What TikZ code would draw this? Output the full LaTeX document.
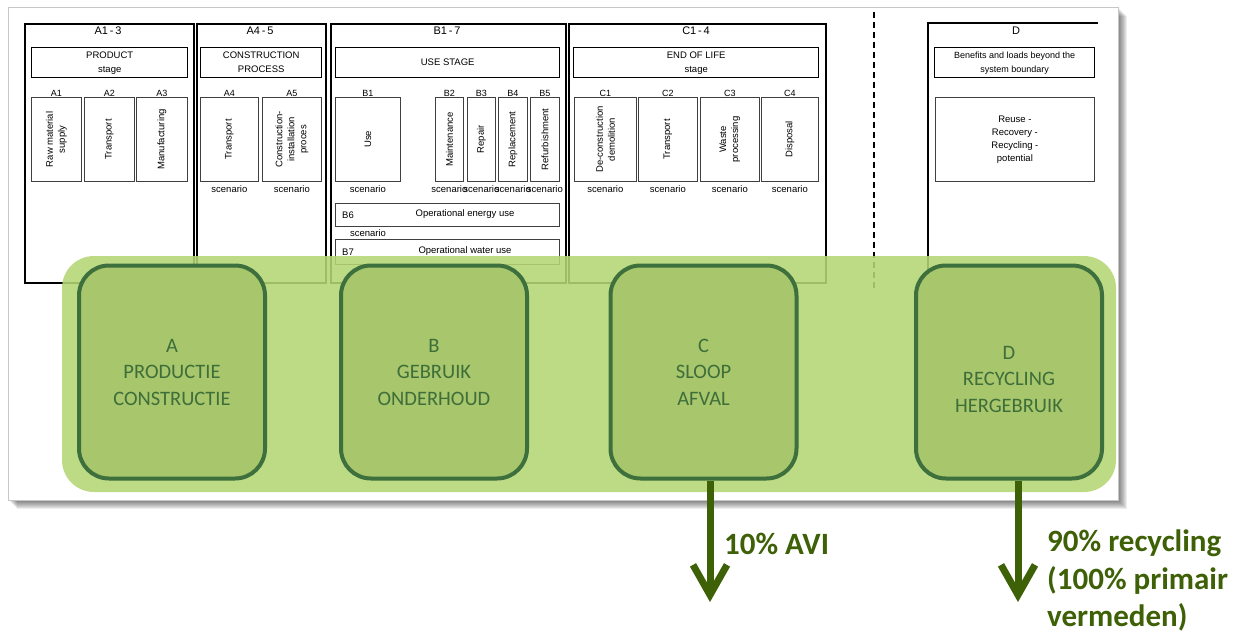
\documentclass[tikz,border=0pt]{standalone}
\usepackage{fontspec}
\setmainfont{Liberation Sans}
\newfontfamily\calfont{Carlito}
\usetikzlibrary{arrows.meta}
\definecolor{bandc}{RGB}{181,214,115}
\definecolor{boxfill}{RGB}{168,198,107}
\definecolor{boxline}{RGB}{62,112,62}
\definecolor{boxtext}{RGB}{62,110,58}
\definecolor{arrowc}{RGB}{62,96,6}
\tikzset{
  outerbox/.style={draw=black, line width=1.6pt, inner sep=0pt, anchor=north west},
  headbox/.style={draw=black, line width=1.4pt, inner sep=0pt, anchor=north west, align=center, font=\fontsize{9.5}{14}\selectfont},
  itembox/.style={draw=black!75, line width=0.8pt, inner sep=0pt, anchor=north west},
  small/.style={font=\fontsize{9.5}{12}\selectfont, inner sep=0pt},
  rot/.style={small, rotate=90, align=center},
  ttl/.style={font=\fontsize{11}{12}\selectfont, inner sep=0pt},
  rbox/.style={draw=boxline, line width=4pt, fill=boxfill, rounded corners=30pt,
     minimum width=186pt, minimum height=213pt, inner sep=0pt, align=center,
     text=boxtext, font=\calfont\fontsize{20.5}{26.5}\selectfont},
  flow/.style={draw=arrowc, line width=7pt, -{Straight Barb[length=30pt,width=34pt]}},
  flowtext/.style={text=arrowc, inner sep=0pt, align=left, font=\calfont\bfseries\fontsize{31}{37.5}\selectfont}
}
\begin{document}
\begin{tikzpicture}[x=1pt,y=-1pt]
\useasboundingbox (0,0) rectangle (1245,635);
% frame with shadow
\foreach \i in {1,...,9}{
  \fill[black, opacity=0.07] (8+\i,7+\i) rectangle (1118+\i,500+\i);
}
\draw[black!22, line width=1pt, fill=white] (8,7) rectangle (1118,500);

% outer boxes
\node[outerbox, minimum width=169pt, minimum height=259pt] (A13) at (24,23) {};
\node[outerbox, minimum width=129pt, minimum height=259pt] (A45) at (196,23) {};
\node[outerbox, minimum width=235pt, minimum height=259pt] (B17) at (330,23) {};
\node[outerbox, minimum width=257pt, minimum height=259pt] (C14) at (568,23) {};
\coordinate (Dtr) at (1098,23);
\coordinate (Dtl) at (928,23);
\coordinate (Dbl) at (928,282);
\draw[line width=1.6pt] (Dtr) -- (Dtl) -- (Dbl);

% titles
\node[ttl] (tA13) at (108,31) {A1\,-\,3};
\node[ttl] (tA45) at (260,31) {A4\,-\,5};
\node[ttl] (tB17) at (447,31) {B1\,-\,7};
\node[ttl] (tC14) at (696,31) {C1\,-\,4};
\node[ttl] (tD) at (1016,31) {D};

% header boxes
\node[headbox, minimum width=156pt, minimum height=30pt] (hA13) at (31,47) {PRODUCT\\stage};
\node[headbox, minimum width=121pt, minimum height=30pt] (hA45) at (200,47) {CONSTRUCTION\\PROCESS};
\node[headbox, minimum width=224pt, minimum height=30pt] (hB17) at (335,47) {USE STAGE};
\node[headbox, minimum width=245pt, minimum height=30pt] (hC14) at (573,47) {END OF LIFE\\stage};
\node[headbox, minimum width=160pt, minimum height=30pt, font=\fontsize{9}{14}\selectfont] (hD) at (934,47) {Benefits and loads beyond the\\system boundary};

% item boxes
\node[itembox, minimum width=50pt, minimum height=84pt] (A1) at (31,97) {};
\node[itembox, minimum width=50pt, minimum height=84pt] (A2) at (84,97) {};
\node[itembox, minimum width=51pt, minimum height=84pt] (A3) at (136,97) {};
\node[itembox, minimum width=58pt, minimum height=84pt] (A4) at (200,97) {};
\node[itembox, minimum width=59pt, minimum height=84pt] (A5) at (262,97) {};
\node[itembox, minimum width=65pt, minimum height=84pt] (B1) at (335,97) {};
\node[itembox, minimum width=28pt, minimum height=84pt] (B2) at (435,97) {};
\node[itembox, minimum width=28pt, minimum height=84pt] (B3) at (467,97) {};
\node[itembox, minimum width=29pt, minimum height=84pt] (B4) at (498,97) {};
\node[itembox, minimum width=29pt, minimum height=84pt] (B5) at (530,97) {};
\node[itembox, minimum width=62pt, minimum height=84pt] (C1) at (574,97) {};
\node[itembox, minimum width=59pt, minimum height=84pt] (C2) at (638,97) {};
\node[itembox, minimum width=59pt, minimum height=84pt] (C3) at (700,97) {};
\node[itembox, minimum width=57pt, minimum height=84pt] (C4) at (761,97) {};
\node[itembox, minimum width=159pt, minimum height=84pt] (DR) at (935,97) {};
\node[itembox, minimum width=224pt, minimum height=23pt] (B6) at (335,203) {};
\node[itembox, minimum width=224pt, minimum height=25pt] (B7) at (335,239) {};

% item codes
\foreach \n in {A1,A2,A3,A4,A5,B1,B2,B3,B4,B5,C1,C2,C3,C4}{
  \node[small, font=\fontsize{9}{12}\selectfont] (l\n) at ([yshift=4pt]\n.north) {\n};
}
% scenario labels
\foreach \n in {A4,A5,B1,B2,B3,B4,B5,C1,C2,C3,C4}{
  \node[small] (s\n) at ([yshift=-7pt]\n.south) {scenario};
}

% rotated texts
\node[rot] (xA1) at (A1.center) {Raw material\\supply};
\node[rot] (xA2) at (A2.center) {Transport};
\node[rot] (xA3) at (A3.center) {Manufacturing};
\node[rot] (xA4) at (A4.center) {Transport};
\node[rot] (xA5) at (A5.center) {Construction-\\installation\\proces};
\node[rot] (xB1) at (B1.center) {Use};
\node[rot] (xB2) at (B2.center) {Maintenance};
\node[rot] (xB3) at (B3.center) {Repair};
\node[rot] (xB4) at (B4.center) {Replacement};
\node[rot] (xB5) at (B5.center) {Refurbishment};
\node[rot] (xC1) at (C1.center) {De-construction\\demolition};
\node[rot] (xC2) at (C2.center) {Transport};
\node[rot] (xC3) at (C3.center) {Waste\\processing};
\node[rot] (xC4) at (C4.center) {Disposal};
\node[small, align=center, font=\fontsize{9.5}{13}\selectfont] (xDR) at (DR.center) {Reuse -\\Recovery -\\Recycling -\\potential};

\node[small, anchor=west] (cB6) at ([xshift=7pt]B6.west) {B6};
\node[small] (tB6) at (465,214.5) {Operational energy use};
\node[small] (sB6) at (368,233) {scenario};
\node[small, anchor=west] (cB7) at ([xshift=7pt]B7.west) {B7};
\node[small] (tB7) at (465,251.5) {Operational water use};

% dashed separator
\coordinate (sepT) at (874,12);
\coordinate (sepB) at (874,292);
\draw[line width=1.6pt, dash pattern=on 6pt off 4pt] (sepT) -- (sepB);

% green band
\fill[bandc, opacity=0.88, rounded corners=32pt] (62,256) rectangle (1116,492);

% rounded stage boxes
\node[rbox] (A) at (172,372) {A\\PRODUCTIE\\CONSTRUCTIE};
\node[rbox] (B) at (434,372) {B\\GEBRUIK\\ONDERHOUD};
\node[rbox] (C) at (703.5,372) {C\\SLOOP\\AFVAL};
\node[rbox] (D) at (1009,372) {};
\node[text=boxtext, font=\calfont\fontsize{20.5}{26.5}\selectfont, align=center, inner sep=0pt] (Dt) at (1009,379) {D\\RECYCLING\\HERGEBRUIK};

% flows
\coordinate (Cend) at (710,602);
\coordinate (Dend) at (1018,602);
\draw[flow] (C.south -| Cend) -- (Cend);
\draw[flow] (D.south -| Dend) -- (Dend);
\node[flowtext, anchor=base west] (tC) at (724,554) {10\% AVI};
\node[flowtext, anchor=north west] (tDf) at (1047,530) {90\% recycling\\(100\% primair\\vermeden)};
\end{tikzpicture}
\end{document}
